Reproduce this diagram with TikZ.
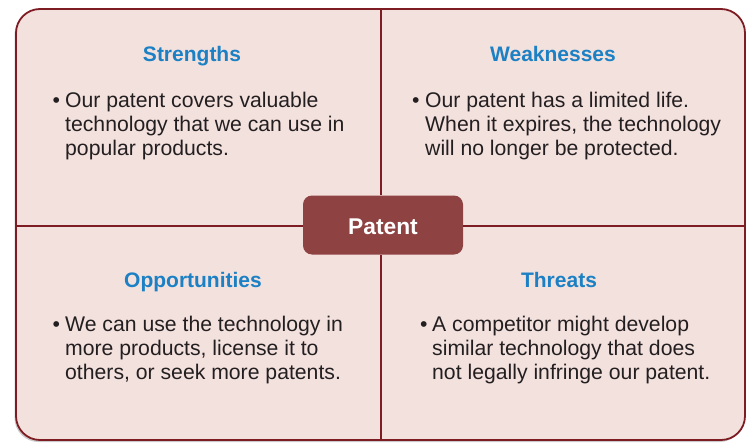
\documentclass[tikz,border=0pt]{standalone}
\usepackage{fontspec}
\setmainfont{Liberation Sans}
\usetikzlibrary{shadows}
\definecolor{boxfill}{HTML}{F3E1DE}
\definecolor{boxline}{HTML}{7D1D23}
\definecolor{patfill}{HTML}{8E4241}
\definecolor{titleblue}{HTML}{1B80C4}
\definecolor{bodytext}{HTML}{231F20}
\begin{document}
\begin{tikzpicture}[x=1pt,y=-1pt,
  frame/.style={draw=boxline,line width=1.8pt,fill=boxfill,rounded corners=24pt,
    drop shadow={shadow xshift=-1.5pt,shadow yshift=-2pt,opacity=0.35,fill=black!60}},
  divider/.style={draw=boxline,line width=1.6pt},
  patentbox/.style={fill=patfill,rounded corners=9pt,minimum width=160pt,minimum height=59pt,
    text=white,font=\fontsize{22.8}{26}\selectfont\bfseries,inner sep=0pt},
  title/.style={anchor=base,text=titleblue,font=\fontsize{21}{24}\selectfont\bfseries,inner sep=0pt},
  line/.style={anchor=base west,text=bodytext,font=\fontsize{21.2}{24}\selectfont,inner sep=0pt},
  bullet/.style={anchor=base west,text=bodytext,font=\fontsize{21.2}{24}\selectfont,inner sep=0pt}]
\useasboundingbox (0,0) rectangle (750,444);
\path[frame] (16,9) rectangle (745,440);
\coordinate (top) at (381,9);
\coordinate (bot) at (381,440);
\coordinate (lft) at (16,226);
\coordinate (rgt) at (745,226);
\node[patentbox] (pat) at (383,225) {};
\draw[divider] (top) -- (top |- pat.north);
\draw[divider] (bot) -- (bot |- pat.south);
\draw[divider] (lft) -- (pat.west |- lft);
\draw[divider] (rgt) -- (pat.east |- rgt);
\node[anchor=base,text=white,font=\fontsize{22.8}{26}\selectfont\bfseries,inner sep=0pt] (pt) at (383,234) {Patent};
% Strengths
\node[title] (st) at (192,62) {Strengths};
\node[bullet] (sb) at (52.5,107) {•};
\node[line] (s1) at (65,107) {Our patent covers valuable};
\node[line] (s2) at (65,131) {technology that we can use in};
\node[line] (s3) at (65,155) {popular products.};
% Weaknesses
\node[title] (wk) at (553,62) {Weaknesses};
\node[bullet] (wb) at (412,107) {•};
\node[line] (w1) at (425,107) {Our patent has a limited life.};
\node[line] (w2) at (425,131) {When it expires, the technology};
\node[line] (w3) at (425,155) {will no longer be protected.};
% Opportunities
\node[title] (op) at (193,287) {Opportunities};
\node[bullet] (ob) at (52.5,331) {•};
\node[line] (o1) at (65,331) {We can use the technology in};
\node[line] (o2) at (65,355) {more products, license it to};
\node[line] (o3) at (65,379) {others, or seek more patents.};
% Threats
\node[title] (th) at (559,287) {Threats};
\node[bullet] (tb) at (420,331) {•};
\node[line] (t1) at (432,331) {A competitor might develop};
\node[line] (t2) at (432,355) {similar technology that does};
\node[line] (t3) at (432,379) {not legally infringe our patent.};
\end{tikzpicture}
\end{document}
